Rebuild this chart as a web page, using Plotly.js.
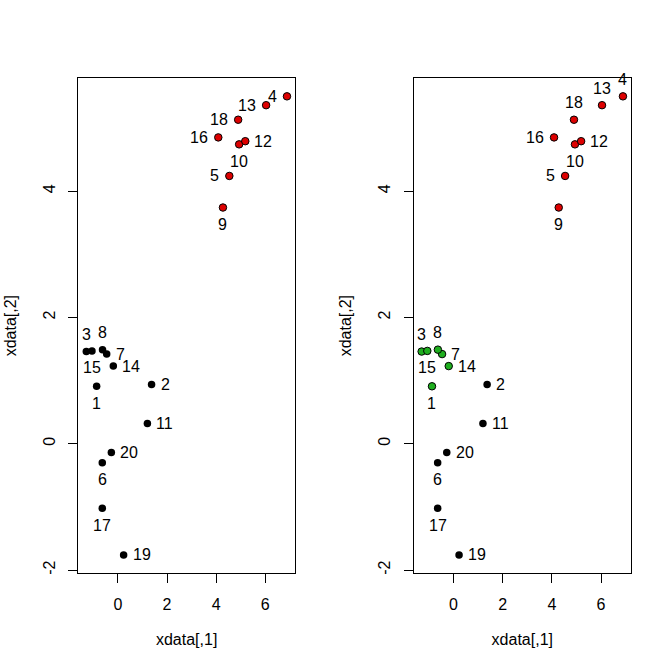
<!DOCTYPE html>
<html>
<head>
<meta charset="utf-8">
<script src="https://cdn.plot.ly/plotly-3.0.1.min.js"></script>
<style>html,body{margin:0;padding:0;background:#fff}#plot{width:672px;height:671px}</style>
</head>
<body>
<div id="plot"></div>
<script>
// Data (point number = index + 1)
var pointLabels = ["1","2","3","4","5","6","7","8","9","10","11","12","13","14","15","16","17","18","19","20"];
var xdata1 = [-0.87, 1.37, -1.29, 6.89, 4.54, -0.64, -0.46, -0.63, 4.28, 4.94, 1.20, 5.19, 6.04, -0.19, -1.06, 4.09, -0.64, 4.90, 0.23, -0.27];
var xdata2 = [0.91, 0.94, 1.46, 5.50, 4.24, -0.30, 1.42, 1.49, 3.74, 4.74, 0.32, 4.79, 5.36, 1.23, 1.47, 4.85, -1.02, 5.13, -1.76, -0.14];
var clusterK2 = [1, 1, 1, 2, 2, 1, 1, 1, 2, 2, 1, 2, 2, 1, 1, 2, 1, 2, 1, 1];
var clusterK3 = [3, 1, 3, 2, 2, 1, 3, 3, 2, 2, 1, 2, 2, 3, 3, 2, 1, 2, 1, 1];
var xTicks = [0, 2, 4, 6];
var yTicks = [-2, 0, 2, 4];

// Styling: label side per point (1 below, 2 left, 3 above, 4 right, as in R text(pos=))
var palette = {1: "#000000", 2: "#DD0000", 3: "#1FAF1F"};
var posLeft  = [1,4,3,2,2,1,4,3,1,1,4,4,2,4,1,2,1,2,4,4];
var posRight = [1,4,3,3,2,1,4,3,1,1,4,4,3,4,1,2,1,3,4,4];
var FONT = "Liberation Sans, Arial, sans-serif";

function rng(a){var mn=Math.min.apply(null,a),mx=Math.max.apply(null,a),d=(mx-mn)*0.04;return [mn-d,mx+d];}
var xr = rng(xdata1), yr = rng(xdata2);

function makeTrace(cl, xa, ya){
  return {
    type: "scatter", mode: "markers",
    x: xdata1, y: xdata2, text: pointLabels, cliponaxis: false,
    marker: {size: 7.5, color: cl.map(function(c){return palette[c];}),
             line: {color: "#000", width: cl.map(function(c){return c===1?0:1;})}},
    xaxis: xa, yaxis: ya, hoverinfo: "text", showlegend: false
  };
}
function makeLabels(pos, xa, ya){
  return pointLabels.map(function(t, i){
    var p = pos[i], a = {x: xdata1[i], y: xdata2[i], xref: xa, yref: ya, text: t, showarrow: false,
      font: {family: FONT, size: 16, color: "#000"}, borderpad: 0, xanchor: "center", yanchor: "middle", xshift: 0, yshift: 0};
    if (p === 1) { a.yshift = -17; }
    if (p === 3) { a.yshift = 17; }
    if (p === 4) { a.xanchor = "left"; a.xshift = 8; }
    if (p === 2) { a.xanchor = "right"; a.xshift = -9; }
    return a;
  });
}

function xax(dom){
  return {domain: dom, range: xr, tickvals: xTicks, ticktext: xTicks.map(String), showgrid: false, zeroline: false,
    showline: true, mirror: true, linecolor: "#000", linewidth: 1, ticks: "outside", ticklen: 9, tickcolor: "#000",
    tickfont: {family: FONT, size: 16, color: "#000"}, ticklabelstandoff: 7,
    title: {text: "xdata[,1]", font: {family: FONT, size: 16, color: "#000"}, standoff: 22}};
}
function yax(dom, anchor){
  return {domain: dom, range: yr, tickvals: yTicks, ticktext: yTicks.map(String), showgrid: false, zeroline: false,
    showline: true, mirror: true, linecolor: "#000", linewidth: 1, ticks: "outside", ticklen: 9, tickcolor: "#000",
    tickangle: -90, anchor: anchor,
    tickfont: {family: FONT, size: 16, color: "#000"}, ticklabelstandoff: 7,
    title: {text: "xdata[,2]", font: {family: FONT, size: 16, color: "#000"}, standoff: 20}};
}

var yd = [1 - 573.3/671, 1 - 78/671];
var layout = {
  width: 672, height: 671, margin: {l: 0, r: 0, t: 0, b: 0},
  paper_bgcolor: "#fff", plot_bgcolor: "#fff",
  xaxis: Object.assign(xax([78.3/672, 295/672]), {anchor: "y"}),
  yaxis: yax(yd, "x"),
  xaxis2: Object.assign(xax([413.6/672, 631/672]), {anchor: "y2"}),
  yaxis2: yax(yd, "x2"),
  annotations: makeLabels(posLeft, "x", "y").concat(makeLabels(posRight, "x2", "y2"))
};

Plotly.newPlot("plot", [makeTrace(clusterK2, "x", "y"), makeTrace(clusterK3, "x2", "y2")], layout, {staticPlot: true});
</script>
</body>
</html>
